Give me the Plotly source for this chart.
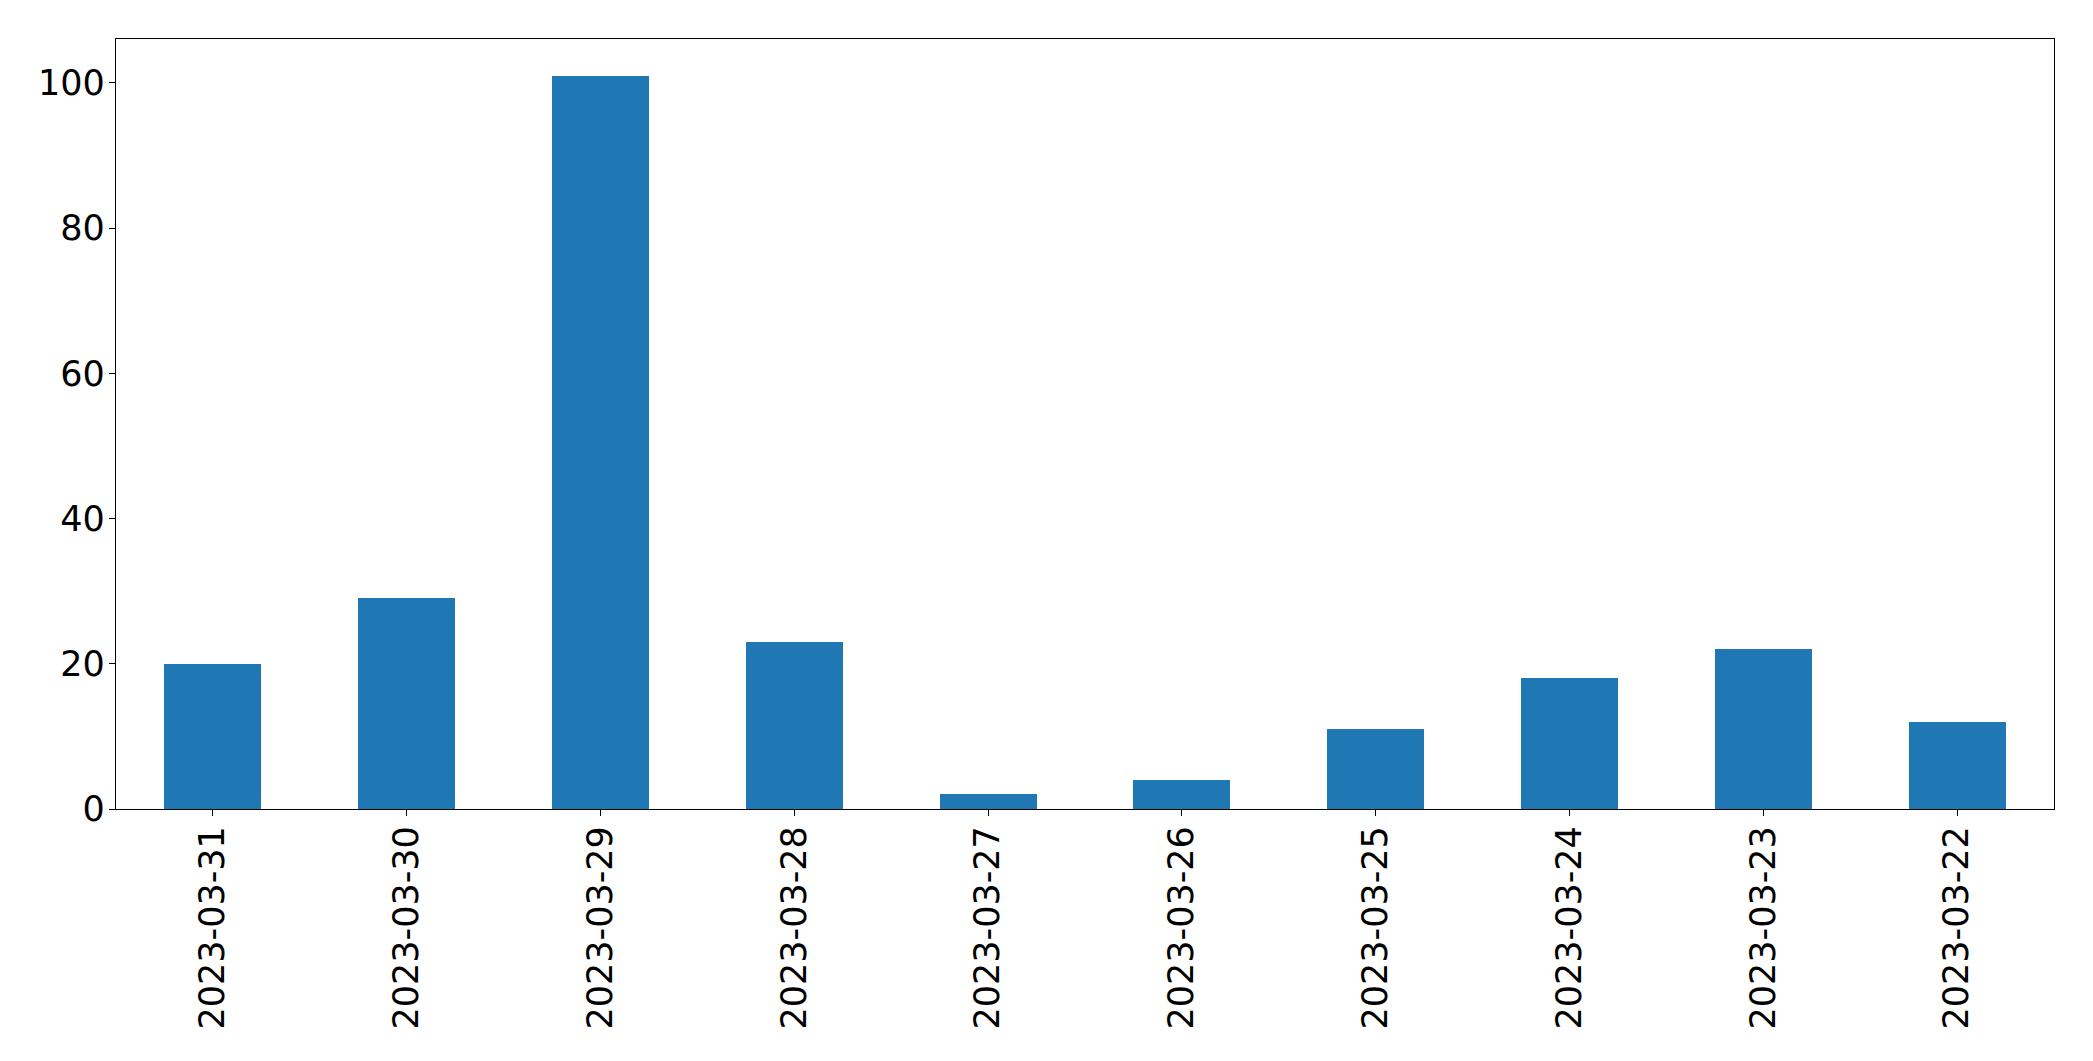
import plotly.graph_objects as go

dates = ["2023-03-31", "2023-03-30", "2023-03-29", "2023-03-28", "2023-03-27",
         "2023-03-26", "2023-03-25", "2023-03-24", "2023-03-23", "2023-03-22"]
counts = [20, 29, 101, 23, 2, 4, 11, 18, 22, 12]
y_ticks = [0, 20, 40, 60, 80, 100]

fig = go.Figure(go.Bar(
    x=list(range(len(dates))),
    y=counts,
    width=0.5,
    marker=dict(color="#1f77b4", line=dict(width=0)),
))

W, H = 2093, 1061
FS = 35
fig.update_layout(
    width=W, height=H,
    margin=dict(l=116, r=39, t=39, b=252, pad=0),
    paper_bgcolor="white",
    plot_bgcolor="white",
    font=dict(family="DejaVu Sans", size=FS, color="black"),
    showlegend=False,
    bargap=0,
)
fig.update_xaxes(
    range=[-0.5, len(dates) - 0.5],
    tickmode="array",
    tickvals=list(range(len(dates))),
    ticktext=dates,
    tickangle=-90,
    ticks="outside", ticklen=6, tickwidth=1.3, tickcolor="black",
    ticklabelstandoff=-4,
    showline=True, linecolor="black", linewidth=1.3, mirror=True,
    showgrid=False, zeroline=False,
    tickfont=dict(size=FS, family="DejaVu Sans", color="black"),
)
fig.update_yaxes(
    range=[0, 106.05],
    tickmode="array",
    tickvals=y_ticks,
    ticktext=[str(v) for v in y_ticks],
    ticks="outside", ticklen=6, tickwidth=1.3, tickcolor="black",
    ticklabelstandoff=-3,
    showline=True, linecolor="black", linewidth=1.3, mirror=True,
    showgrid=False, zeroline=False,
    tickfont=dict(size=FS, family="DejaVu Sans", color="black"),
)

fig.write_html(
    "out.html",
    config={"displayModeBar": False},
    post_script="document.body.style.margin='0';document.body.style.overflow='hidden';",
)
